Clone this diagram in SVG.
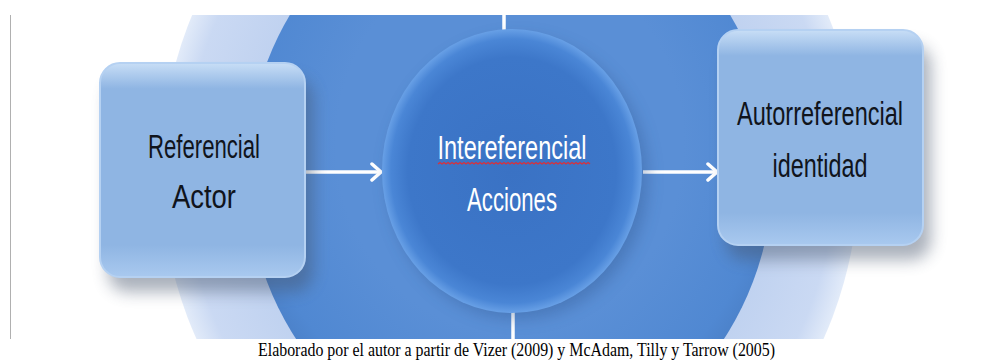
<svg xmlns="http://www.w3.org/2000/svg" width="1003" height="362" viewBox="0 0 1003 362">
<defs>
<clipPath id="pic"><rect x="11" y="15" width="992" height="324"/></clipPath>
<radialGradient id="ringG" cx="0.5" cy="0.5" r="0.5">
<stop offset="0.7" stop-color="#bdd0ef"/>
<stop offset="0.93" stop-color="#cad9f3"/>
<stop offset="1" stop-color="#e2ebf9"/>
</radialGradient>
<radialGradient id="darkG" cx="0.5" cy="0.45" r="0.55">
<stop offset="0.6" stop-color="#5a8fd6"/>
<stop offset="0.9" stop-color="#5088d2"/>
<stop offset="1" stop-color="#4a7fc6"/>
</radialGradient>
<radialGradient id="sphereG" cx="0.5" cy="0.5" r="0.5">
<stop offset="0" stop-color="#3a72c4"/>
<stop offset="0.8" stop-color="#3d77c9"/>
<stop offset="0.93" stop-color="#4a86d6"/>
<stop offset="1" stop-color="#68a0e6"/>
</radialGradient>
<linearGradient id="boxG" x1="0" y1="0" x2="0" y2="1">
<stop offset="0" stop-color="#c8def6"/>
<stop offset="0.12" stop-color="#8fb5e3"/>
<stop offset="0.85" stop-color="#8fb5e3"/>
<stop offset="1" stop-color="#a9c9ef"/>
</linearGradient>
<filter id="shadow" x="-20%" y="-20%" width="150%" height="150%">
<feGaussianBlur stdDeviation="8"/>
</filter>
<marker id="arr" markerWidth="14" markerHeight="20" refX="11" refY="10" orient="auto" markerUnits="userSpaceOnUse">
<path d="M2,2 L11,10 L2,18" fill="none" stroke="#ffffff" stroke-width="3.5" stroke-linecap="round" stroke-linejoin="round"/>
</marker>
</defs>
<style>
.box{fill:url(#boxG);stroke:#b5d1f2;stroke-width:2}
.lbl{font-family:"Liberation Sans Narrow","Liberation Sans",Arial,sans-serif;font-size:33px;text-anchor:middle}
.dark{fill:#10141c}
.white{fill:#ffffff}
.conn{stroke:#ffffff;stroke-width:3.5;fill:none}
.cap{font-family:"Liberation Serif","Times New Roman",serif;font-size:18px;fill:#000}
.wavy{fill:none;stroke:#d8323c;stroke-width:1.2}
</style>
<line x1="10.5" y1="15" x2="10.5" y2="339" stroke="#b0b0b0" stroke-width="1"/>
<g id="background" clip-path="url(#pic)">
<ellipse cx="510" cy="172" rx="349" ry="380" fill="url(#ringG)"/>
<ellipse cx="510" cy="172" rx="263" ry="287" fill="url(#darkG)"/>
</g>
<g id="connectors" clip-path="url(#pic)">
<line class="conn" x1="504" y1="10" x2="504" y2="58"/>
<line class="conn" x1="513" y1="298" x2="513" y2="345"/>
<line class="conn" x1="306" y1="172" x2="381" y2="172" marker-end="url(#arr)"/>
<line class="conn" x1="643" y1="172" x2="717" y2="172" marker-end="url(#arr)"/>
</g>
<g id="node-intereferencial">
<ellipse cx="518" cy="178" rx="130" ry="141" fill="#2a4f86" opacity="0.35" filter="url(#shadow)"/>
<ellipse cx="512" cy="171" rx="130" ry="142" fill="url(#sphereG)"/>
<text class="lbl white" x="512" y="159" textLength="149" lengthAdjust="spacingAndGlyphs">Intereferencial</text>
<path class="wavy" d="M438,164 l2,-1.5 l2,1.5 l2,-1.5 l2,1.5 l2,-1.5 l2,1.5 l2,-1.5 l2,1.5 l2,-1.5 l2,1.5 l2,-1.5 l2,1.5 l2,-1.5 l2,1.5 l2,-1.5 l2,1.5 l2,-1.5 l2,1.5 l2,-1.5 l2,1.5 l2,-1.5 l2,1.5 l2,-1.5 l2,1.5 l2,-1.5 l2,1.5 l2,-1.5 l2,1.5 l2,-1.5 l2,1.5 l2,-1.5 l2,1.5 l2,-1.5 l2,1.5 l2,-1.5 l2,1.5 l2,-1.5 l2,1.5 l2,-1.5 l2,1.5 l2,-1.5 l2,1.5 l2,-1.5 l2,1.5 l2,-1.5 l2,1.5 l2,-1.5 l2,1.5 l2,-1.5 l2,1.5 l2,-1.5 l2,1.5 l2,-1.5 l2,1.5 l2,-1.5 l2,1.5 l2,-1.5 l2,1.5 l2,-1.5 l2,1.5 l2,-1.5 l2,1.5 l2,-1.5 l2,1.5 l2,-1.5 l2,1.5 l2,-1.5 l2,1.5 l2,-1.5 l2,1.5 l2,-1.5 l2,1.5 l2,-1.5 l2,1.5 l2,-1.5 l2,1.5"/>
<text class="lbl white" x="512" y="211" textLength="90" lengthAdjust="spacingAndGlyphs">Acciones</text>
</g>
<g id="node-referencial">
<rect x="108" y="78" width="205" height="214" rx="20" fill="#44536a" opacity="0.45" filter="url(#shadow)"/>
<rect class="box" x="100" y="63" width="205" height="214" rx="20"/>
<text class="lbl dark" x="204" y="158" textLength="112" lengthAdjust="spacingAndGlyphs">Referencial</text>
<text class="lbl dark" x="204" y="208" textLength="64" lengthAdjust="spacingAndGlyphs">Actor</text>
</g>
<g id="node-autorreferencial">
<rect x="726" y="45" width="205" height="215" rx="20" fill="#44536a" opacity="0.45" filter="url(#shadow)"/>
<rect class="box" x="718" y="30" width="205" height="215" rx="20"/>
<text class="lbl dark" x="820" y="125" textLength="166" lengthAdjust="spacingAndGlyphs">Autorreferencial</text>
<text class="lbl dark" x="820" y="177" textLength="95" lengthAdjust="spacingAndGlyphs">identidad</text>
</g>
<text class="cap" x="258" y="356" textLength="517" lengthAdjust="spacingAndGlyphs">Elaborado por el autor a partir de Vizer (2009) y McAdam, Tilly y Tarrow (2005)</text>
</svg>
